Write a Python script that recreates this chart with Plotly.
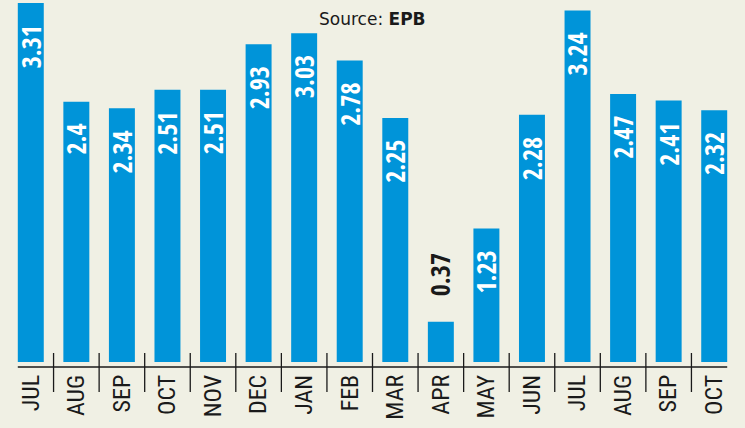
import plotly.graph_objects as go

months = ["JUL", "AUG", "SEP", "OCT", "NOV", "DEC", "JAN", "FEB", "MAR",
          "APR", "MAY", "JUN", "JUL", "AUG", "SEP", "OCT"]
values = [3.31, 2.4, 2.34, 2.51, 2.51, 2.93, 3.03, 2.78, 2.25,
          0.37, 1.23, 2.28, 3.24, 2.47, 2.41, 2.32]
value_labels = ["3.31", "2.4", "2.34", "2.51", "2.51", "2.93", "3.03", "2.78", "2.25",
                "0.37", "1.23", "2.28", "3.24", "2.47", "2.41", "2.32"]

BG = "#f0f0e4"
BLUE = "#0094d9"
DARK = "#1a1a1a"
LABEL_FONT = "Open Sans Condensed, Roboto Condensed, sans-serif"
TICK_FONT = "Roboto Condensed, Open Sans Condensed, sans-serif"

xs = list(range(len(months)))
W, H = 745, 428
mt, mb, ml, mr = 3, 66, 8, 8
ph = H - mt - mb

fig = go.Figure()
fig.add_trace(go.Bar(x=xs, y=values, width=0.57, marker=dict(color=BLUE, line=dict(width=0)),
                     hoverinfo="y"))

def py(px):
    return (H - mb - px) / ph

annotations = []
for x, v, lab in zip(xs, values, value_labels):
    inside = v > 0.8
    annotations.append(dict(
        x=x, y=v, xref="x", yref="y", text="<b>%s</b>" % lab, showarrow=False,
        textangle=-90, yanchor="top" if inside else "bottom",
        yshift=-21 if inside else 25, borderpad=0,
        font=dict(family=LABEL_FONT, size=26, weight=700, color="white" if inside else DARK)))

annotations.append(dict(x=0.5, y=py(19.5), xref="paper", yref="paper", showarrow=False,
                        text="Source: <b>EPB</b>", xanchor="center", yanchor="middle",
                        font=dict(family="DejaVu Sans, Verdana, sans-serif", size=17, color=DARK)))

shapes = [dict(type="line", xref="x", yref="paper", x0=-0.285, x1=len(xs) - 1 + 0.285,
               y0=py(367), y1=py(367), line=dict(color=DARK, width=1.3))]
for i in range(len(xs) - 1):
    shapes.append(dict(type="line", xref="x", yref="paper", x0=i + 0.5, x1=i + 0.5,
                       y0=py(353), y1=py(392), line=dict(color=DARK, width=1.3)))

fig.update_layout(
    width=W, height=H, paper_bgcolor=BG, plot_bgcolor=BG,
    margin=dict(t=mt, b=mb, l=ml, r=mr, autoexpand=False),
    showlegend=False, bargap=0.43,
    annotations=annotations, shapes=shapes,
    xaxis=dict(range=[-0.5, len(xs) - 0.5], tickmode="array", tickvals=xs, ticktext=months,
               tickangle=-90, showgrid=False, zeroline=False, showline=False, ticks="",
               ticklabelstandoff=7, automargin=False,
               tickfont=dict(family=TICK_FONT, size=24, color=DARK)),
    yaxis=dict(range=[0, max(values)], visible=False, showgrid=False, zeroline=False,
               automargin=False),
)

fig.write_html("out.html", config={"displayModeBar": False},
               post_script="document.body.style.margin='0';document.body.style.background='%s';" % BG)
